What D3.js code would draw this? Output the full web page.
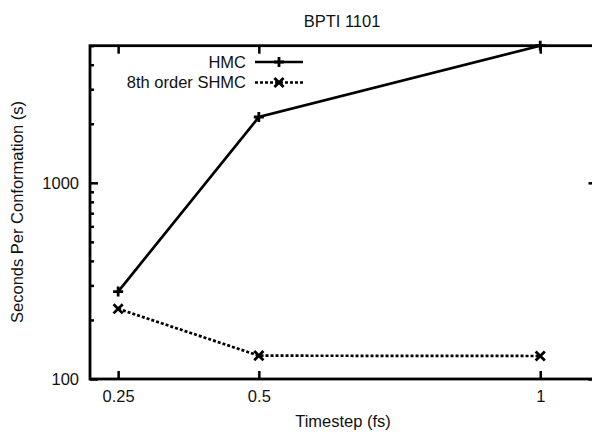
<!DOCTYPE html>
<html>
<head>
<meta charset="utf-8">
<script src="https://cdn.jsdelivr.net/npm/d3@7"></script>
<style>
  body { margin: 0; background: #fff; }
  svg { display: block; font-family: 'Liberation Sans', Arial, Helvetica, sans-serif; }
  .axis path.domain { display: none; }
  .axis line { stroke: #000; stroke-width: 2.5; }
  .axis text { font-size: 16.5px; fill: #111; }
</style>
</head>
<body>
<div id="app"></div>
<script>
// values
const timesteps = [0.25, 0.5, 1];
const hmcSeconds = [279, 2165, 5000];
const shmcSeconds = [228, 131.5, 131];
const seriesNames = ['HMC', '8th order SHMC'];
const xTicks = [0.25, 0.5, 1];
const yTicks = [100, 1000];
const yMinorTicks = [200, 300, 400, 500, 600, 700, 800, 900, 2000, 3000, 4000, 5000];

const svg = d3.select('#app').append('svg')
            .attr('width', 592)
            .attr('height', 432);

const margin = { top: 45.7, right: -4.5, bottom: 53, left: 90 };
const width = +svg.attr('width') - margin.left - margin.right;
const height = +svg.attr('height') - margin.top - margin.bottom;

const g = svg.append('g')
            .attr('transform', `translate(${margin.left},${margin.top})`);

const x = d3.scaleLinear()
    .domain([0.2, 1.1])
    .range([0, width]);

const y = d3.scaleLog()
    .domain([100, 5000])
    .range([height, 0]);

const series = [
  { name: seriesNames[0], values: hmcSeconds, dash: null, marker: 'plus' },
  { name: seriesNames[1], values: shmcSeconds, dash: '3,2', marker: 'cross' }
];

const markerPath = (kind, cx, cy) => {
  if (kind === 'plus') {
    const r = 5;
    return `M${cx - r},${cy}H${cx + r}M${cx},${cy - r}V${cy + r}`;
  }
  const r = 4.6;
  return `M${cx - r},${cy - r}L${cx + r},${cy + r}M${cx - r},${cy + r}L${cx + r},${cy - r}`;
};

// bottom / left axes with labels
g.append('g')
    .attr('class', 'axis axis--x')
    .attr('transform', `translate(0,${height})`)
    .call(d3.axisBottom(x)
      .tickValues(xTicks)
      .tickSizeInner(-8)
      .tickSizeOuter(0)
      .tickPadding(11)
      .tickFormat(d3.format('')));

g.append('g')
    .attr('class', 'axis axis--y')
    .call(d3.axisLeft(y)
      .tickValues(yTicks)
      .tickSizeInner(-8)
      .tickSizeOuter(0)
      .tickPadding(11)
      .tickFormat(d3.format('d')));

g.append('g')
    .attr('class', 'axis axis--y-minor')
    .call(d3.axisLeft(y)
      .tickValues(yMinorTicks)
      .tickSize(-4)
      .tickFormat(''));

// mirrored ticks on top / right
g.append('g')
    .attr('class', 'axis')
    .call(d3.axisTop(x)
      .tickValues(xTicks)
      .tickSize(-8)
      .tickFormat(''));

g.append('g')
    .attr('class', 'axis')
    .attr('transform', `translate(${width},0)`)
    .call(d3.axisRight(y)
      .tickValues(yTicks)
      .tickSize(-8)
      .tickFormat(''));

g.append('g')
    .attr('class', 'axis')
    .attr('transform', `translate(${width},0)`)
    .call(d3.axisRight(y)
      .tickValues(yMinorTicks)
      .tickSize(-4)
      .tickFormat(''));

// frame
g.append('rect')
    .attr('width', width)
    .attr('height', height)
    .attr('fill', 'none')
    .attr('stroke', '#000')
    .attr('stroke-width', 2.8);

const line = d3.line()
    .x((d, i) => x(timesteps[i]))
    .y(d => y(d));

const serie = g.selectAll('.serie')
    .data(series)
    .enter().append('g')
      .attr('class', 'serie');

serie.append('path')
    .attr('d', d => line(d.values))
    .attr('fill', 'none')
    .attr('stroke', '#000')
    .attr('stroke-width', 2.7)
    .attr('stroke-dasharray', d => d.dash);

serie.selectAll('.pt')
    .data(d => d.values.map((v, i) => ({ v, t: timesteps[i], marker: d.marker })))
    .enter().append('path')
      .attr('class', 'pt')
      .attr('d', d => markerPath(d.marker, x(d.t), y(d.v)))
      .attr('stroke', '#000')
      .attr('stroke-width', 2.8)
      .attr('fill', 'none');

// legend
const legend = svg.append('g')
    .selectAll('.legend')
    .data(series)
    .enter().append('g')
      .attr('class', 'legend')
      .attr('transform', (d, i) => `translate(0,${62 + i * 20.5})`);

legend.append('text')
    .attr('x', 246)
    .attr('dy', '0.35em')
    .attr('text-anchor', 'end')
    .attr('font-size', 16.5)
    .attr('fill', '#111')
    .text(d => d.name);

legend.append('line')
    .attr('x1', 255)
    .attr('x2', 303)
    .attr('stroke', '#000')
    .attr('stroke-width', 2.7)
    .attr('stroke-dasharray', d => d.dash);

legend.append('path')
    .attr('d', d => markerPath(d.marker, 279, 0))
    .attr('stroke', '#000')
    .attr('stroke-width', 2.8)
    .attr('fill', 'none');

// titles
svg.append('text')
    .attr('x', 342)
    .attr('y', 27)
    .attr('text-anchor', 'middle')
    .attr('font-size', 16.5)
    .attr('fill', '#111')
    .text('BPTI 1101');

svg.append('text')
    .attr('x', 343)
    .attr('y', 427)
    .attr('text-anchor', 'middle')
    .attr('font-size', 16.5)
    .attr('fill', '#111')
    .text('Timestep (fs)');

svg.append('text')
    .attr('transform', 'translate(23,212) rotate(-90)')
    .attr('text-anchor', 'middle')
    .attr('font-size', 16.5)
    .attr('fill', '#111')
    .text('Seconds Per Conformation (s)');
</script>
</body>
</html>
